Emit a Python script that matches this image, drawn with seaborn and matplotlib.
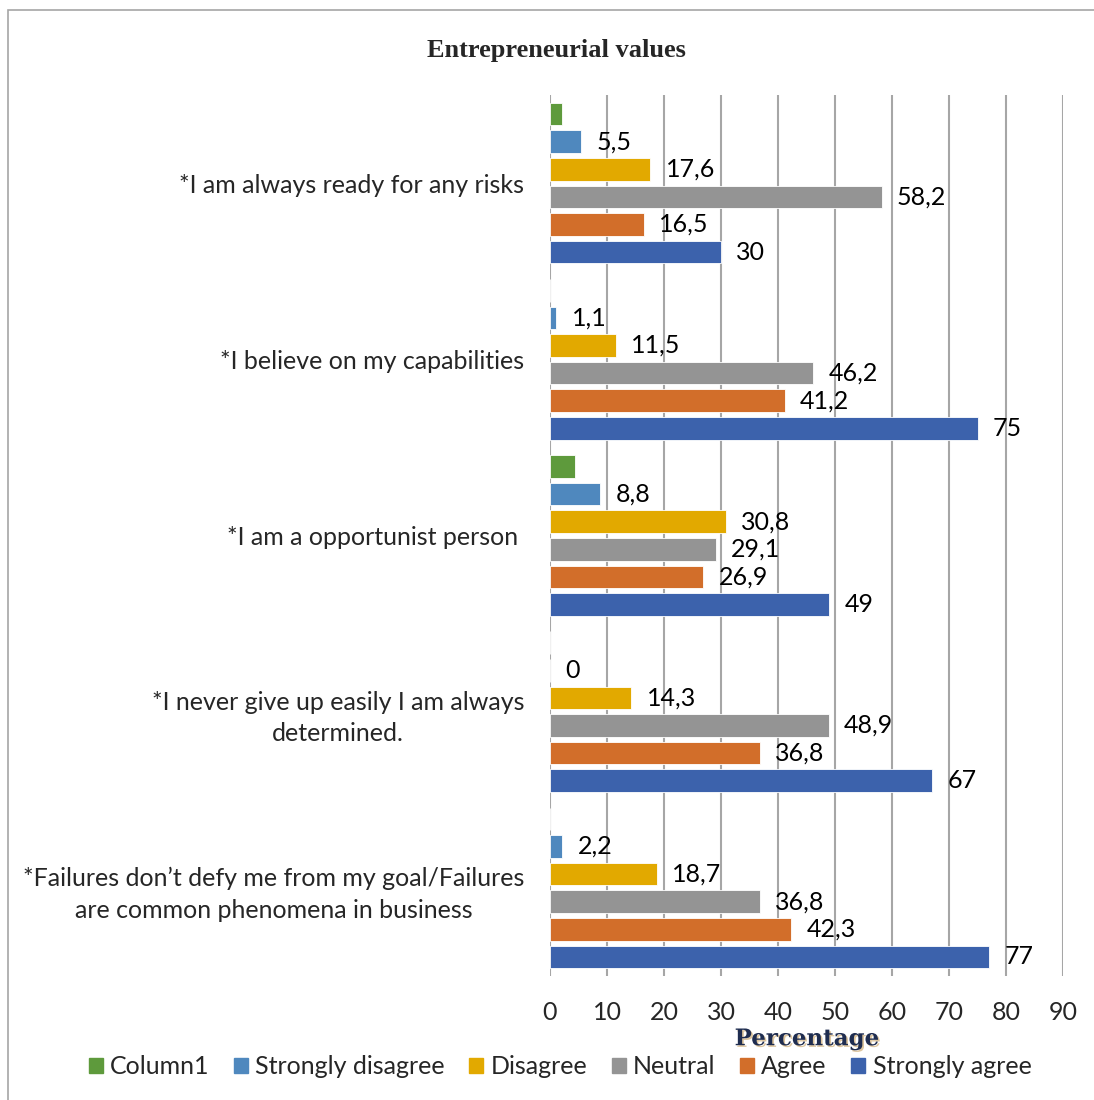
import numpy as np
import pandas as pd
import matplotlib
matplotlib.use("Agg")
import matplotlib.pyplot as plt
import matplotlib.patheffects as pe
from matplotlib.patches import Rectangle
import seaborn as sns

# data
statements = [
    "*I am always ready for any risks",
    "*I believe on my capabilities",
    "*I am a opportunist person ",
    "*I never give up easily I am always\ndetermined.",
    "*Failures don\u2019t defy me from my goal/Failures\nare common phenomena in business",
]
responses = ["Column1", "Strongly disagree", "Disagree", "Neutral", "Agree", "Strongly agree"]
column1 = [2.2, 0, 4.4, 0, 0]
strongly_disagree = [5.5, 1.1, 8.8, 0, 2.2]
disagree = [17.6, 11.5, 30.8, 14.3, 18.7]
neutral = [58.2, 46.2, 29.1, 48.9, 36.8]
agree = [16.5, 41.2, 26.9, 36.8, 42.3]
strongly_agree = [30, 75, 49, 67, 77]
colors = ["#5E9A3C", "#4F88BE", "#E2A900", "#949494", "#D26E2A", "#3C62AC"]

series = [column1, strongly_disagree, disagree, neutral, agree, strongly_agree]
rows = []
for resp, vals in zip(responses, series):
    for st, v in zip(statements, vals):
        rows.append({"statement": st, "response": resp, "value": v})
df = pd.DataFrame(rows)

sns.set_style("white")
plt.rcParams["font.family"] = ["Lato", "DejaVu Sans"]
FS = 18

fig = plt.figure(figsize=(10.94, 11), dpi=100)
ax = fig.add_axes([0.5027, 0.1127, 0.469, 0.801])

sns.barplot(data=df, y="statement", x="value", hue="response", orient="h",
            order=statements, hue_order=responses, palette=colors, saturation=1,
            width=0.94, gap=0.18, errorbar=None, ax=ax, legend=True,
            edgecolor="white", linewidth=0.6)

# data labels (no labels for Column1)
for i, cont in enumerate(ax.containers):
    if i == 0:
        continue
    labels = [f"{v:g}".replace(".", ",") for v in cont.datavalues]
    ax.bar_label(cont, labels=labels, padding=11, fontsize=FS, color="black")

ax.set_xlim(0, 90)
ax.set_xticks(np.arange(0, 91, 10))
ax.set_ylim(len(statements) - 0.5, -0.5)
ax.xaxis.grid(True, color="#A6A6A6", linewidth=1.5)
ax.set_axisbelow(True)
for s in ax.spines.values():
    s.set_visible(False)
ax.tick_params(axis="x", length=5, color="#A6A6A6", width=1.5, labelsize=FS, pad=13)
ax.tick_params(axis="y", length=0, labelsize=FS, pad=18.5)
for lbl in ax.get_yticklabels():
    lbl.set_multialignment("center")
    lbl.set_linespacing(1.45)

ax.set_ylabel("")
ax.set_xlabel("Percentage", fontsize=16.5, fontweight="bold", family="DejaVu Serif",
              color="#1F2D50", labelpad=3,
              path_effects=[pe.SimplePatchShadow(offset=(1.2, -1.2), shadow_rgbFace="#C8A060",
                                                 alpha=0.6), pe.Normal()])

ax.get_legend().remove()
handles = [Rectangle((0, 0), 1, 1, color=c) for c in colors]
fig.legend(handles, responses, loc="center", bbox_to_anchor=(0.512, 0.030), ncol=6,
           frameon=False, fontsize=FS, handlelength=0.55, handleheight=0.55,
           handletextpad=0.3, columnspacing=0.98)

fig.text(0.509, 0.9545, "Entrepreneurial values", ha="center", va="center",
         fontsize=19, fontweight="bold", family="Liberation Serif")

# chart border
fig.patches.append(Rectangle((0.0075, -0.01), 1.0, 1.0 - 0.0091 + 0.01,
                             transform=fig.transFigure, fill=False,
                             edgecolor="#A6A6A6", linewidth=1.2))

fig.savefig("out.png", dpi=100)
